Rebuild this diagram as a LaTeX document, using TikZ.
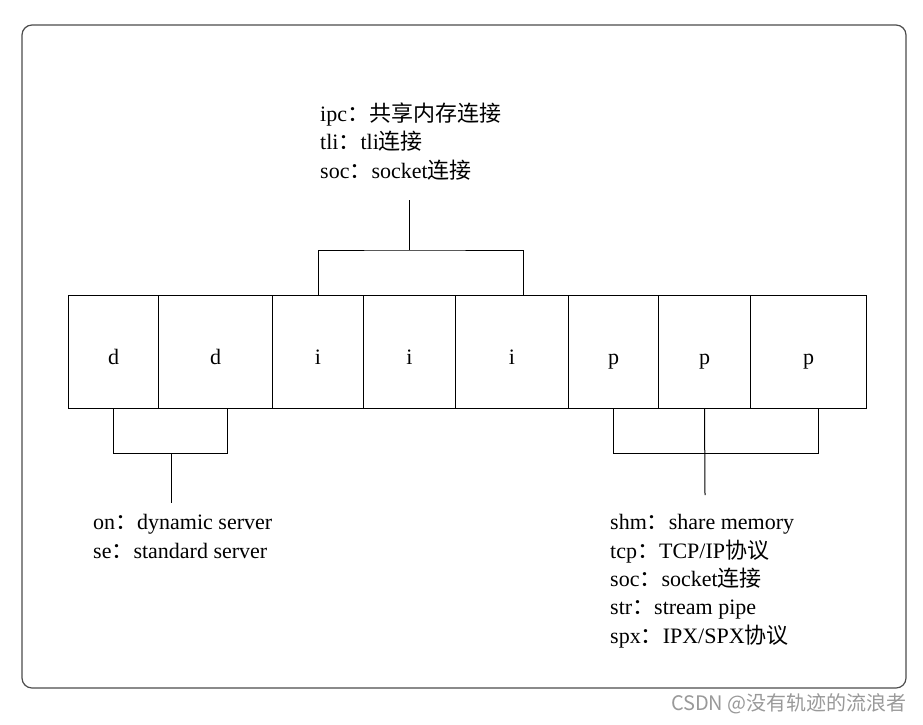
\documentclass[tikz,border=0pt]{standalone}
\usepackage{fontspec}
\setmainfont{Liberation Serif}
\newfontfamily\cjk{Noto Sans CJK SC}
\begin{document}
\begin{tikzpicture}[x=1pt,y=-1pt,
    cell/.style={draw, line width=1pt, inner sep=0pt, anchor=north west,
      minimum height=113pt, text height=25pt, text depth=0pt,
      font=\fontsize{22}{26}\selectfont},
    note/.style={anchor=base west, inner sep=0pt, align=left,
      font=\fontsize{22}{28.3}\selectfont},
    wire/.style={line width=1pt}]
      \useasboundingbox (0,0) rectangle (923,724);

      % Draw the outer frame
      \draw[line width=1.2pt, black!70, rounded corners=10pt] (22,25) rectangle (906,688);

      % Draw the eight cells
      \node[cell, minimum width=90pt] at (68,295) (c1) {d};
      \node[cell, minimum width=114pt] at (158,295) (c2) {d};
      \node[cell, minimum width=91pt] at (272,295) (c3) {i};
      \node[cell, minimum width=92pt] at (363,295) (c4) {i};
      \node[cell, minimum width=113pt] at (455,295) (c5) {i};
      \node[cell, minimum width=90pt] at (568,295) (c6) {p};
      \node[cell, minimum width=92pt] at (658,295) (c7) {p};
      \node[cell, minimum width=116pt] at (750,295) (c8) {p};

      % Draw the bracket over the i cells
      \coordinate (ibar) at (409,250);
      \coordinate (itop) at (409,200);
      \draw[wire] (c3.north) |- (ibar) -| ([xshift=11pt]c5.north);
      \draw[wire] (ibar) -- (itop);
      \node[note] at (320,178) (itext) {ipc{\cjk ：共享内存连接}\\
        tli{\cjk ：}tli{\cjk 连接}\\
        soc{\cjk ：}socket{\cjk 连接}};

      % Draw the bracket under the d cells
      \coordinate (dbar) at (171,453);
      \coordinate (dend) at (171,503);
      \draw[wire] (c1.south) |- (dbar) -| ([xshift=12pt]c2.south);
      \draw[wire] (dbar) -- (dend);
      \node[note] at (93,558) (dtext) {on{\cjk ：}dynamic server\\
        se{\cjk ：}standard server};

      % Draw the bracket under the p cells
      \coordinate (pbar) at (705,453);
      \coordinate (pend) at (705,495);
      \draw[wire] (c6.south) |- (pbar) -| ([xshift=10pt]c8.south);
      \draw[wire] (c7.south) -- (pend);
      \node[note] at (610,643) (ptext) {shm{\cjk ：}share memory\\
        tcp{\cjk ：}TCP/IP{\cjk 协议}\\
        soc{\cjk ：}socket{\cjk 连接}\\
        str{\cjk ：}stream pipe\\
        spx{\cjk ：}IPX/SPX{\cjk 协议}};

      % Watermark
      \node[anchor=base east, inner sep=0pt, text=black!40,
        font=\cjk\fontsize{20}{20}\selectfont] at (907,710) (mark) {CSDN @没有轨迹的流浪者};
    \end{tikzpicture}
\end{document}
